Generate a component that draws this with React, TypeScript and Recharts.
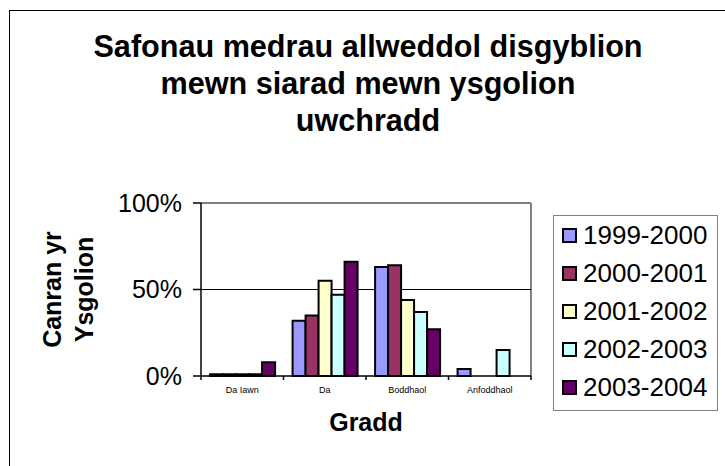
import { Bar, BarChart, CartesianGrid, Legend, XAxis, YAxis } from "recharts";

// Gradd (categories) and the five school years
const grades = ["Da Iawn", "Da", "Boddhaol", "Anfoddhaol"];
const years = ["1999-2000", "2000-2001", "2001-2002", "2002-2003", "2003-2004"];

// Canran yr ysgolion (%) per gradd, one list per year
const y1999 = [1, 32, 63, 4];
const y2000 = [1, 35, 64, 0];
const y2001 = [1, 55, 44, 0];
const y2002 = [1, 47, 37, 15];
const y2003 = [8, 66, 27, 0];

const yTicks = [0, 50, 100];

const yearValues = [y1999, y2000, y2001, y2002, y2003];
const palette = ["#9999ff", "#993366", "#ffffcc", "#ccffff", "#660066"];

const rows = grades.map((grade, i) => {
  const row: Record<string, string | number> = { grade };
  years.forEach((year, j) => {
    row[year] = yearValues[j][i];
  });
  return row;
});

const FONT = '"Liberation Sans", Arial, Helvetica, sans-serif';
const TICK_LEN = 4;
const TICK_GAP = 2;

function GradeTick(props: any) {
  const { x, y, payload, index, visibleTicksCount } = props;
  const half = payload?.offset ?? 0;
  const axisY = y - TICK_GAP - TICK_LEN;
  const last = index === visibleTicksCount - 1;
  return (
    <g>
      <line x1={x - half} x2={x - half} y1={axisY} y2={axisY + TICK_LEN} stroke="#000" strokeWidth={1.5} />
      {last ? (
        <line x1={x + half} x2={x + half} y1={axisY} y2={axisY + TICK_LEN} stroke="#000" strokeWidth={1.5} />
      ) : null}
      <text x={x} y={y + 11} textAnchor="middle" fontSize={9} fill="#000">
        {payload.value}
      </text>
    </g>
  );
}

function YTitle(props: any) {
  const vb = props.viewBox ?? { x: 141, y: 203, width: 60, height: 173 };
  const cy = vb.y + vb.height / 2;
  const x1 = vb.x - 80;
  const x2 = vb.x - 48;
  return (
    <g fontSize={25} fontWeight={700} fill="#000">
      <text x={x1} y={cy} textAnchor="middle" transform={`rotate(-90 ${x1} ${cy})`}>
        Canran yr
      </text>
      <text x={x2} y={cy} textAnchor="middle" transform={`rotate(-90 ${x2} ${cy})`}>
        Ysgolion
      </text>
    </g>
  );
}

function LegendBox(props: any) {
  const items = props.payload ?? [];
  return (
    <div
      style={{
        width: 165,
        height: 196,
        boxSizing: "border-box",
        border: "1px solid #808080",
        background: "#fff",
        fontFamily: FONT
      }}
    >
      {items.map((item: any) => (
        <div key={item.value} style={{ display: "flex", alignItems: "center", height: 38, paddingLeft: 8 }}>
          <span
            style={{
              display: "inline-block",
              width: 15,
              height: 15,
              boxSizing: "border-box",
              border: "2px solid #000",
              background: item.color,
              marginRight: 6
            }}
          />
          <span style={{ fontSize: 26, lineHeight: "36px", color: "#000" }}>{item.value}</span>
        </div>
      ))}
    </div>
  );
}

export default function App() {
  return (
    <div
      style={{
        position: "absolute",
        left: 0,
        top: 0,
        width: 725,
        height: 466,
        overflow: "hidden",
        background: "#fff",
        fontFamily: FONT
      }}
    >
      {/* chart area frame, runs off the right and bottom edges */}
      <div
        style={{
          position: "absolute",
          left: 9,
          top: 10,
          width: 800,
          height: 500,
          borderLeft: "1px solid #000",
          borderTop: "1px solid #000"
        }}
      />
      <div
        style={{
          position: "absolute",
          left: 8,
          top: 28,
          width: 720,
          textAlign: "center",
          fontSize: 30.6,
          fontWeight: 700,
          lineHeight: "37px",
          color: "#000"
        }}
      >
        Safonau medrau allweddol disgyblion
        <br />
        mewn siarad mewn ysgolion
        <br />
        uwchradd
      </div>
      <BarChart
        width={725}
        height={466}
        data={rows}
        margin={{ top: 203, right: 194, bottom: 60, left: 141 }}
        barCategoryGap="11%"
        barGap={0}
      >
        <CartesianGrid
          stroke="#808080"
          strokeWidth={2}
          horizontalCoordinatesGenerator={({ offset }: any) => [offset.top]}
          verticalCoordinatesGenerator={({ offset }: any) => [offset.left + offset.width]}
        />
        <CartesianGrid vertical={false} stroke="#000" horizontalValues={[50]} />
        <XAxis
          dataKey="grade"
          height={30}
          tickLine={false}
          tickSize={TICK_LEN}
          tickMargin={TICK_GAP}
          axisLine={{ stroke: "#000", strokeWidth: 1.5 }}
          tick={<GradeTick />}
          interval={0}
          label={{ value: "Gradd", position: "bottom", offset: 7, fontSize: 25, fontWeight: 700, fill: "#000" }}
        />
        <YAxis
          width={60}
          domain={[0, 100]}
          ticks={yTicks}
          tickFormatter={(v) => `${v}%`}
          tickSize={8}
          tickMargin={11}
          tick={{ fontSize: 25, fill: "#000" }}
          tickLine={{ stroke: "#000", strokeWidth: 1.5 }}
          axisLine={{ stroke: "#000", strokeWidth: 1.5 }}
          label={<YTitle />}
        />
        <Legend
          layout="vertical"
          align="center"
          verticalAlign="middle"
          width={165}
          height={196}
          wrapperStyle={{ left: 553, top: 215, width: 165, height: 196 }}
          content={<LegendBox />}
        />
        {years.map((year, j) => (
          <Bar
            key={year}
            dataKey={year}
            name={year}
            fill={palette[j]}
            stroke="#000"
            strokeWidth={2}
            isAnimationActive={false}
          />
        ))}
      </BarChart>
    </div>
  );
}
